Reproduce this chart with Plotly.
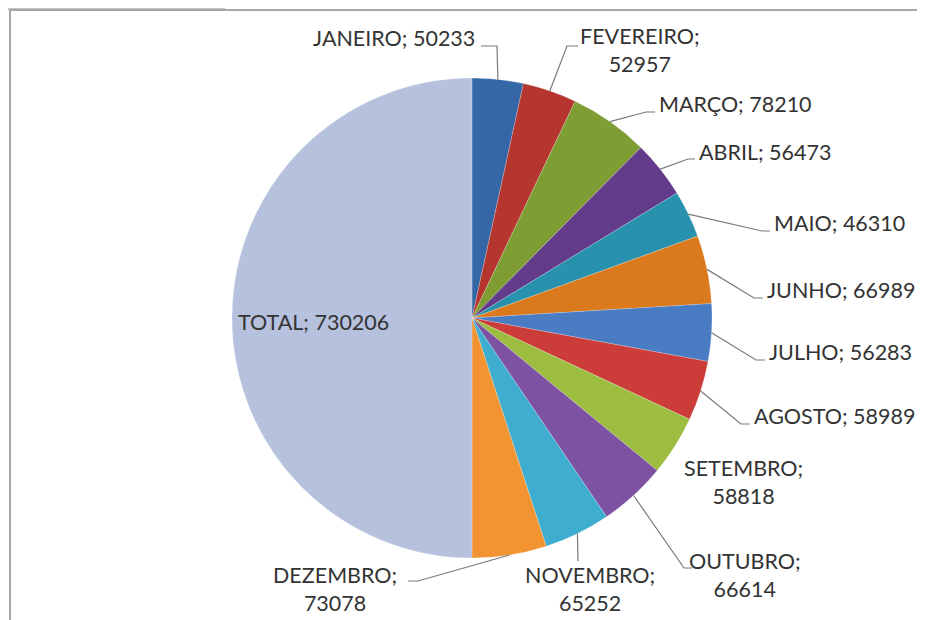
import math
import plotly.graph_objects as go

# ---- data ----
months = ["JANEIRO", "FEVEREIRO", "MARÇO", "ABRIL", "MAIO", "JUNHO",
          "JULHO", "AGOSTO", "SETEMBRO", "OUTUBRO", "NOVEMBRO", "DEZEMBRO"]
month_values = [50233, 52957, 78210, 56473, 46310, 66989,
                56283, 58989, 58818, 66614, 65252, 73078]
total_label = "TOTAL"
total_value = 730206

labels = months + [total_label]
values = month_values + [total_value]

colors = ["#3566A6", "#B5352F", "#7E9D33", "#623C8A", "#2891AE", "#DA7A1C",
          "#4A7CC4", "#CC3C39", "#9CBD40", "#7E52A2", "#3FADCF", "#F39433",
          "#B6C1DE"]

W, H = 925, 620
OFF = 8  # page body margin: screen px -> figure px
CX, CY, R = 472, 318, 240  # pie centre / radius in screen pixels

FONT = dict(family="Lato, 'Open Sans', sans-serif", size=21.5, color="#333333")


def px(x, y):
    return (x - OFF) / W, 1 - (y - OFF) / H


# label placement (screen pixels): text anchor, alignment, leader line points (text side first)
placement = {
    "JANEIRO":   dict(x=477, y=38, xa="right", lines=1, lead=[(481, 46), (497, 46)]),
    "FEVEREIRO": dict(x=640, y=50, xa="center", lines=2, lead=[(578, 46), (567, 46)]),
    "MARÇO":     dict(x=657, y=104, xa="left", lines=1, lead=[(655, 112), (646, 112)]),
    "ABRIL":     dict(x=697, y=152, xa="left", lines=1, lead=[(695, 159), (688, 159)]),
    "MAIO":      dict(x=772, y=223, xa="left", lines=1, lead=[(770, 231), (762, 231)]),
    "JUNHO":     dict(x=765, y=290, xa="left", lines=1, lead=[(763, 298), (754, 298)]),
    "JULHO":     dict(x=767, y=352, xa="left", lines=1, lead=[(765, 360), (756, 360)]),
    "AGOSTO":    dict(x=752, y=416, xa="left", lines=1, lead=[(750, 424), (741, 424)]),
    "SETEMBRO":  dict(x=743, y=482, xa="center", lines=2, lead=None),
    "OUTUBRO":   dict(x=745, y=575, xa="center", lines=2, lead=[(692, 568), (684, 568)]),
    "NOVEMBRO":  dict(x=590, y=589, xa="center", lines=2, lead=[(578, 561)]),
    "DEZEMBRO":  dict(x=335, y=589, xa="center", lines=2, lead=[(408, 581), (418, 581)]),
}

dx0, dy1 = px(CX - R, CY - R)
dx1, dy0 = px(CX + R, CY + R)

fig = go.Figure(go.Pie(
    labels=labels,
    values=values,
    sort=False,
    direction="clockwise",
    rotation=0,
    marker=dict(colors=colors, line=dict(color="rgba(255,255,255,0.35)", width=0.6)),
    textinfo="none",
    hoverinfo="label+value",
    showlegend=False,
    domain=dict(x=[dx0, dx1], y=[dy0, dy1]),
))

annotations = []
shapes = []
total_sum = sum(values)
cum = 0.0
for lab, val in zip(labels, values):
    start = cum / total_sum * 360
    cum += val
    mid = math.radians(start + val / total_sum * 360 / 2)
    ax_px = CX + R * math.sin(mid)
    ay_px = CY - R * math.cos(mid)
    if lab == total_label:
        tx, ty = CX - R * 0.66, CY + 4
        x, y = px(tx, ty)
        annotations.append(dict(x=x, y=y, xref="paper", yref="paper",
                                text=f"{lab}; {val}", showarrow=False,
                                xanchor="center", yanchor="middle", font=FONT))
        continue
    p = placement[lab]
    txt = f"{lab}; {val}" if p["lines"] == 1 else f"{lab};<br>{val}"
    x, y = px(p["x"], p["y"])
    annotations.append(dict(x=x, y=y, xref="paper", yref="paper", text=txt,
                            showarrow=False, xanchor=p["xa"], yanchor="middle",
                            align="center", font=FONT))
    if p["lead"]:
        pts = p["lead"] + [(ax_px, ay_px)]
        path = "M " + " L ".join(f"{px(a, b)[0]:.5f},{px(a, b)[1]:.5f}" for a, b in pts)
        shapes.append(dict(type="path", path=path, xref="paper", yref="paper",
                           line=dict(color="#7a7a7a", width=1.2)))

# outer frame lines
fy = px(0, 10)[1]
fx = px(10, 0)[0]
shapes.append(dict(type="line", xref="paper", yref="paper",
                   x0=0, y0=px(0, 9)[1], x1=px(225, 0)[0], y1=px(0, 9)[1],
                   line=dict(color="#c4c4c4", width=3)))
shapes.append(dict(type="line", xref="paper", yref="paper",
                   x0=fx, y0=fy, x1=1.01, y1=fy,
                   line=dict(color="#a6a6a6", width=2)))
shapes.append(dict(type="line", xref="paper", yref="paper",
                   x0=fx, y0=fy, x1=fx, y1=-0.01,
                   line=dict(color="#a6a6a6", width=2)))

fig.update_layout(
    width=W, height=H,
    margin=dict(l=0, r=0, t=0, b=0),
    paper_bgcolor="white",
    plot_bgcolor="white",
    annotations=annotations,
    shapes=shapes,
)

fig.write_html("out.html")
